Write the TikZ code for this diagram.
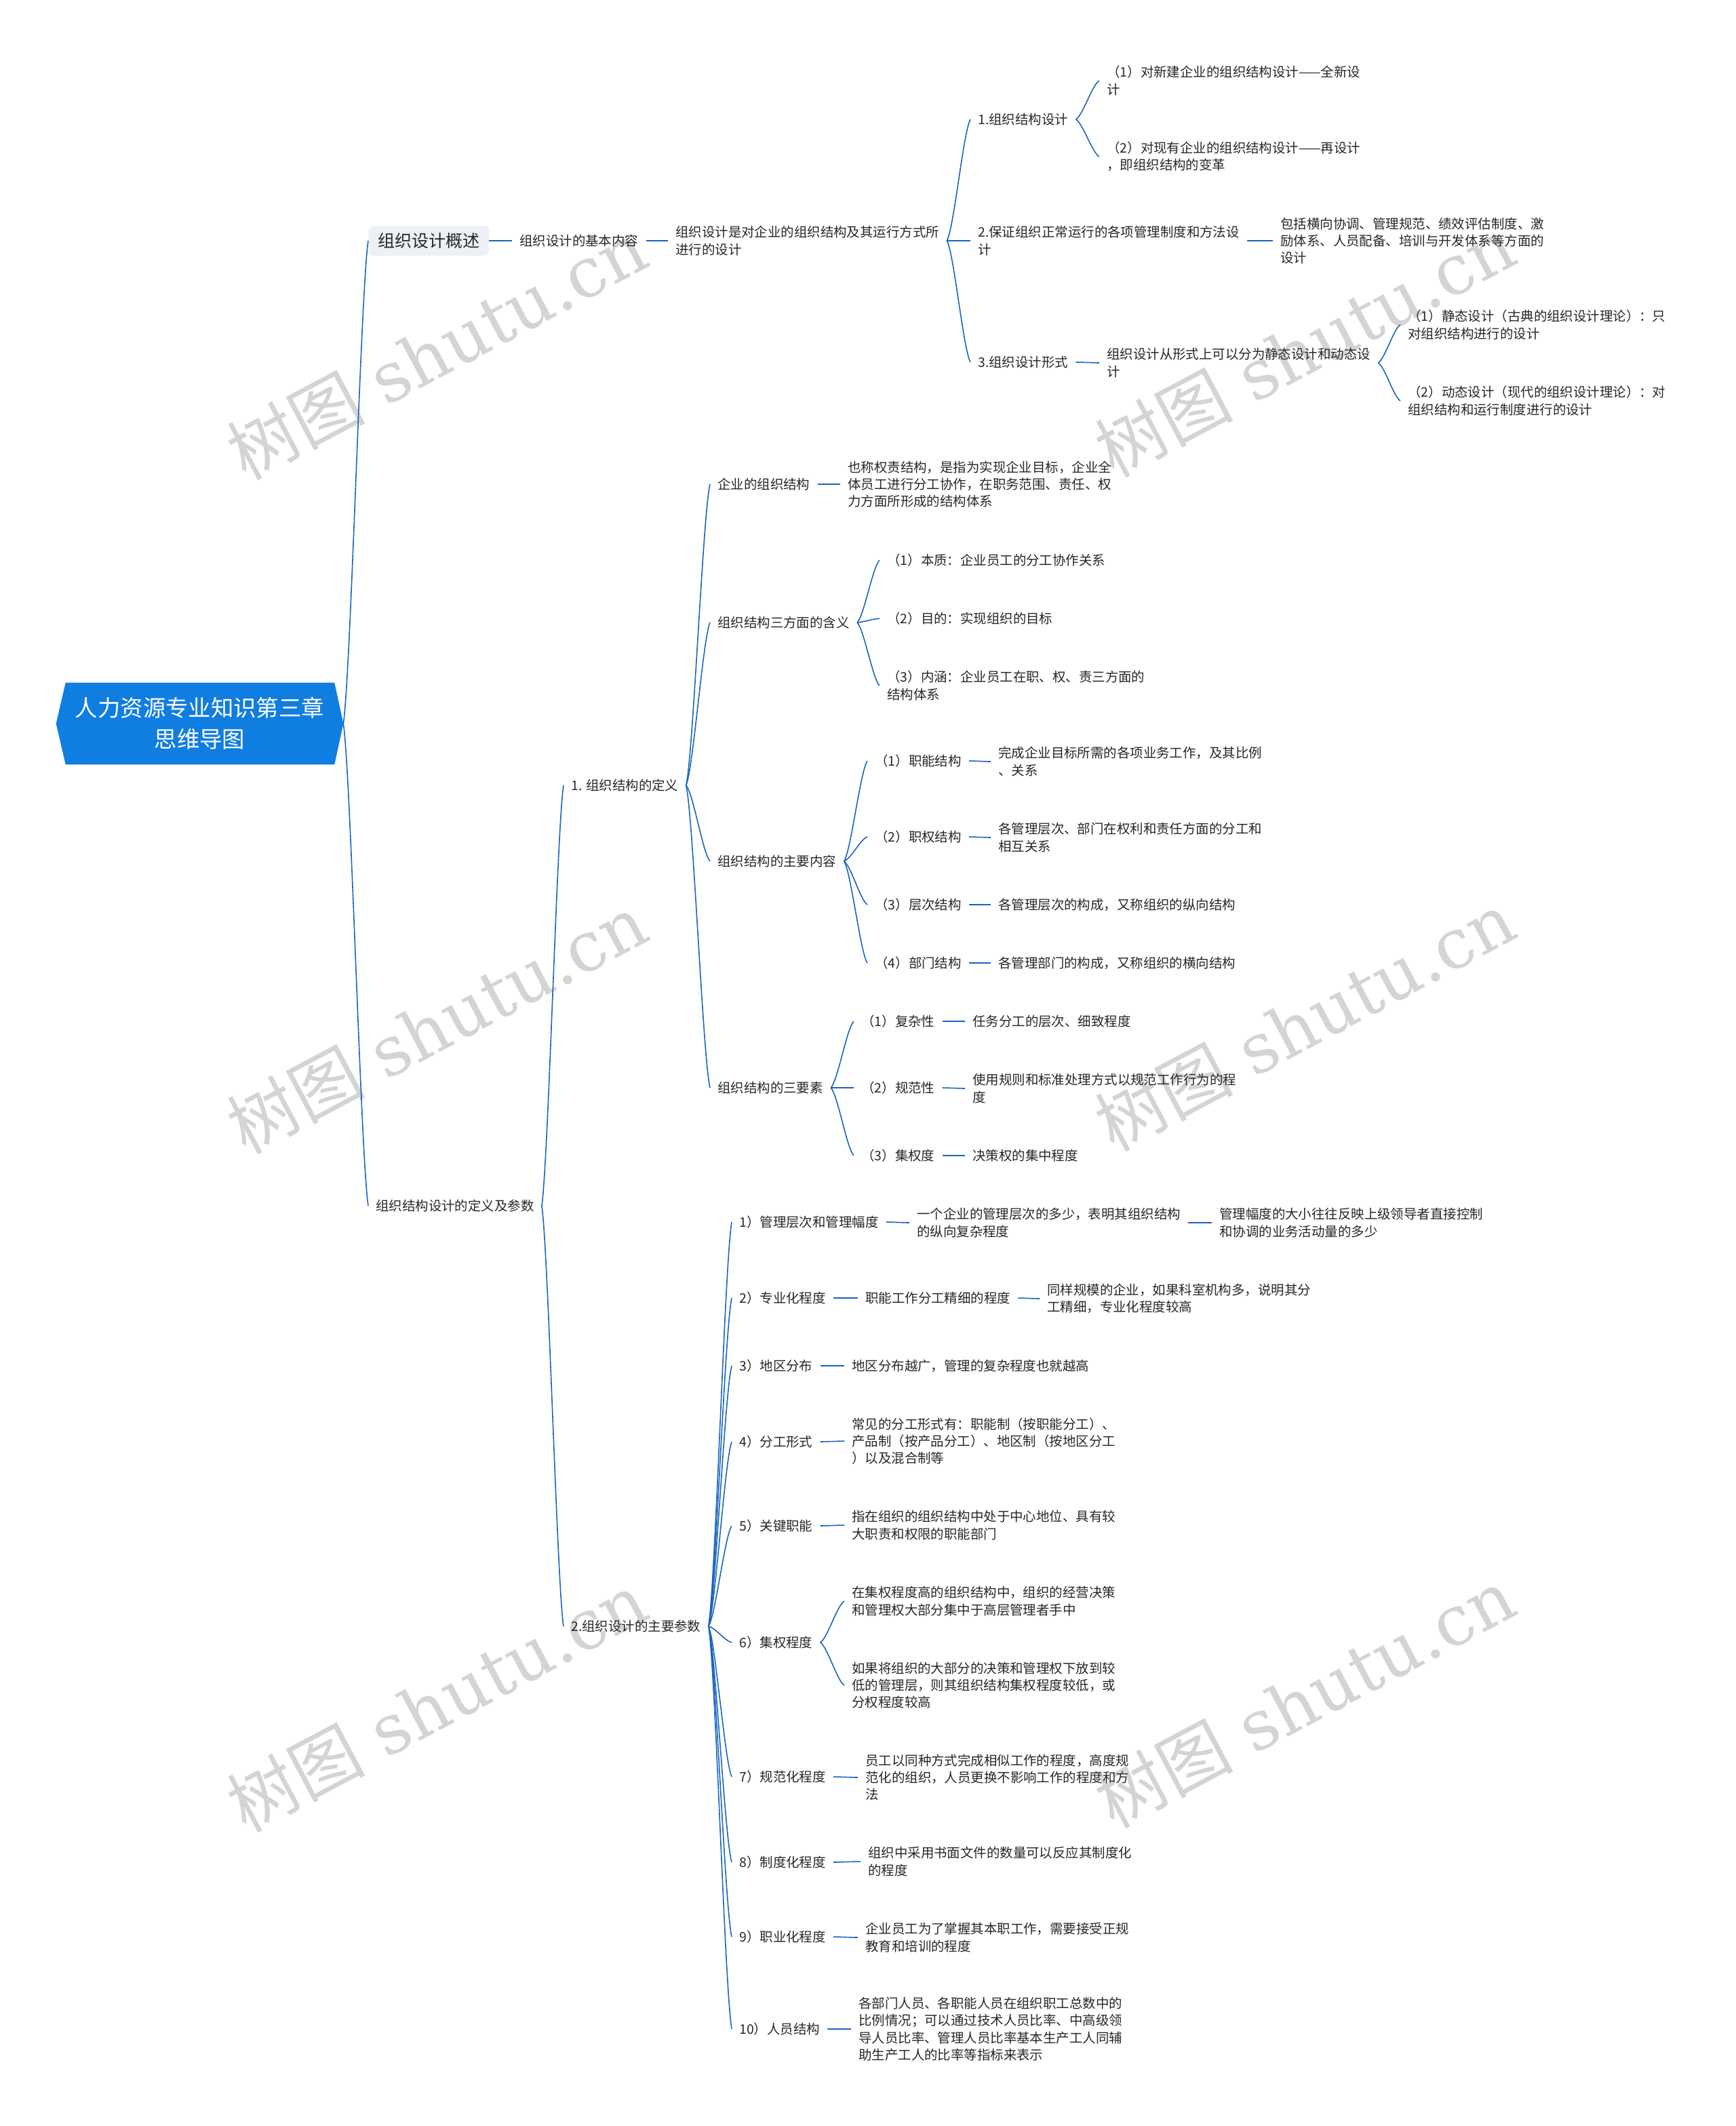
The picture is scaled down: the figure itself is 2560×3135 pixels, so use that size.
\documentclass[tikz,border=0pt]{standalone}
\usepackage{fontspec}
\usepackage{xcolor}
\usetikzlibrary{calc,backgrounds}

\newfontfamily\cjk{Noto Sans CJK SC}
\newfontfamily\wmserif{DejaVu Serif}

\definecolor{rootblue}{RGB}{16,125,225}
\definecolor{linkblue}{RGB}{24,100,190}
\definecolor{boxgray}{RGB}{237,241,245}
\definecolor{wmgray}{RGB}{212,212,212}

% curved connector from the east side of one topic to the west side of another
\newcommand\branch[2]{%
  \draw[link] let \p1=(#1.east), \p2=(#2.west) in
    (\p1) .. controls ($(\p1)+({0.3*(\x2-\x1)},{0.1*(\y2-\y1)})$)
          and ($(\p2)-({0.3*(\x2-\x1)},{0.1*(\y2-\y1)})$) .. (\p2);}

\begin{document}
\begin{tikzpicture}[
    x=0.02cm, y=-0.02cm,
    link/.style={draw=linkblue, line width=0.9pt},
    topic/.style={
        anchor=west,
        inner xsep=0.22cm,
        inner ysep=0pt,
        align=left,
        text=black!85,
        font=\cjk\fontsize{11.06}{14.4}\selectfont
    },
    overview/.style={
        topic,
        fill=boxgray,
        rounded corners=4pt,
        inner xsep=0.28cm,
        minimum height=0.88cm,
        font=\cjk\fontsize{14.2}{17}\selectfont
    },
    roottext/.style={
        align=center,
        text=white,
        minimum width=8.46cm,
        minimum height=2.4cm,
        font=\cjk\fontsize{19}{26.2}\selectfont
    },
    wmark/.style={
        rotate=28,
        text=wmgray,
        font=\fontsize{58}{60}\selectfont
    }
]
\useasboundingbox (0,0) rectangle (2560,3135);

% =========================================================
% Watermarks
% =========================================================
\node[wmark] (wm1) at (644,516)  {{\cjk 树图} {\wmserif shutu.cn}};
\node[wmark] (wm2) at (1924,512) {{\cjk 树图} {\wmserif shutu.cn}};
\node[wmark] (wm3) at (644,1510) {{\cjk 树图} {\wmserif shutu.cn}};
\node[wmark] (wm4) at (1924,1506) {{\cjk 树图} {\wmserif shutu.cn}};
\node[wmark] (wm5) at (644,2510) {{\cjk 树图} {\wmserif shutu.cn}};
\node[wmark] (wm6) at (1924,2504) {{\cjk 树图} {\wmserif shutu.cn}};

% =========================================================
% Root and main topics
% =========================================================
\node[roottext] (root) at (294.5,1067) {人力资源专业知识第三章\\思维导图};
\begin{scope}[on background layer]
\fill[rootblue] (root.west) -- ($(root.north west)+(14,0)$) -- ($(root.north east)+(-13,0)$)
    -- (root.east) -- ($(root.south east)+(-13,0)$) -- ($(root.south west)+(14,0)$) -- cycle;
\end{scope}

\node[overview] (ov) at (543,355) {组织设计概述};
\node[topic] (def) at (543,1778) {组织结构设计的定义及参数};

% =========================================================
% Overview branch
% =========================================================
\node[topic] (basic) at (755,355) {组织设计的基本内容};
\node[topic] (design) at (985,355) {组织设计是对企业的组织结构及其运行方式所\\进行的设计};

\node[topic] (s1) at (1431,176) {1.组织结构设计};
\node[topic] (s2) at (1431,355) {2.保证组织正常运行的各项管理制度和方法设\\计};
\node[topic] (s3) at (1431,534) {3.组织设计形式};

\node[topic] (s1a) at (1621,119) {（1）对新建企业的组织结构设计——全新设\\计};
\node[topic] (s1b) at (1621,231) {（2）对现有企业的组织结构设计——再设计\\，即组织结构的变革};
\node[topic] (s2a) at (1877,355) {包括横向协调、管理规范、绩效评估制度、激\\励体系、人员配备、培训与开发体系等方面的\\设计};
\node[topic] (s3a) at (1621,535) {组织设计从形式上可以分为静态设计和动态设\\计};
\node[topic] (s3b1) at (2065,479) {（1）静态设计（古典的组织设计理论）：只\\对组织结构进行的设计};
\node[topic] (s3b2) at (2065,591) {（2）动态设计（现代的组织设计理论）：对\\组织结构和运行制度进行的设计};

% =========================================================
% Definition of organisation structure
% =========================================================
\node[topic] (d1) at (831,1158) {1. 组织结构的定义};
\node[topic] (d2) at (831,2398) {2.组织设计的主要参数};

\node[topic] (e1) at (1047,714) {企业的组织结构};
\node[topic] (e1a) at (1239,714) {也称权责结构，是指为实现企业目标，企业全\\体员工进行分工协作，在职务范围、责任、权\\力方面所形成的结构体系};

\node[topic] (e2) at (1047,918) {组织结构三方面的含义};
\node[topic] (e2a) at (1297,826) {（1）本质：企业员工的分工协作关系};
\node[topic] (e2b) at (1297,912) {（2）目的：实现组织的目标};
\node[topic] (e2c) at (1297,1011) {（3）内涵：企业员工在职、权、责三方面的\\结构体系};

\node[topic] (e3) at (1047,1270) {组织结构的主要内容};
\node[topic] (e3a) at (1279,1122) {（1）职能结构};
\node[topic] (e3b) at (1279,1234) {（2）职权结构};
\node[topic] (e3c) at (1279,1334) {（3）层次结构};
\node[topic] (e3d) at (1279,1420) {（4）部门结构};
\node[topic] (e3a1) at (1461,1123) {完成企业目标所需的各项业务工作，及其比例\\、关系};
\node[topic] (e3b1) at (1461,1235) {各管理层次、部门在权利和责任方面的分工和\\相互关系};
\node[topic] (e3c1) at (1461,1334) {各管理层次的构成，又称组织的纵向结构};
\node[topic] (e3d1) at (1461,1420) {各管理部门的构成，又称组织的横向结构};

\node[topic] (e4) at (1047,1604) {组织结构的三要素};
\node[topic] (e4a) at (1259,1506) {（1）复杂性};
\node[topic] (e4b) at (1259,1604) {（2）规范性};
\node[topic] (e4c) at (1259,1704) {（3）集权度};
\node[topic] (e4a1) at (1423,1506) {任务分工的层次、细致程度};
\node[topic] (e4b1) at (1423,1605) {使用规则和标准处理方式以规范工作行为的程\\度};
\node[topic] (e4c1) at (1423,1704) {决策权的集中程度};

% =========================================================
% Main design parameters
% =========================================================
\node[topic] (p1) at (1079,1802) {1）管理层次和管理幅度};
\node[topic] (p1a) at (1341,1803) {一个企业的管理层次的多少，表明其组织结构\\的纵向复杂程度};
\node[topic] (p1b) at (1787,1803) {管理幅度的大小往往反映上级领导者直接控制\\和协调的业务活动量的多少};

\node[topic] (p2) at (1079,1914) {2）专业化程度};
\node[topic] (p2a) at (1265,1914) {职能工作分工精细的程度};
\node[topic] (p2b) at (1533,1915) {同样规模的企业，如果科室机构多，说明其分\\工精细，专业化程度较高};

\node[topic] (p3) at (1079,2014) {3）地区分布};
\node[topic] (p3a) at (1245,2014) {地区分布越广，管理的复杂程度也就越高};

\node[topic] (p4) at (1079,2126) {4）分工形式};
\node[topic] (p4a) at (1245,2125) {常见的分工形式有：职能制（按职能分工）、\\产品制（按产品分工）、地区制（按地区分工\\）以及混合制等};

\node[topic] (p5) at (1079,2250) {5）关键职能};
\node[topic] (p5a) at (1245,2249) {指在组织的组织结构中处于中心地位、具有较\\大职责和权限的职能部门};

\node[topic] (p6) at (1079,2422) {6）集权程度};
\node[topic] (p6a) at (1245,2361) {在集权程度高的组织结构中，组织的经营决策\\和管理权大部分集中于高层管理者手中};
\node[topic] (p6b) at (1245,2485) {如果将组织的大部分的决策和管理权下放到较\\低的管理层，则其组织结构集权程度较低，或\\分权程度较高};

\node[topic] (p7) at (1079,2620) {7）规范化程度};
\node[topic] (p7a) at (1265,2621) {员工以同种方式完成相似工作的程度，高度规\\范化的组织，人员更换不影响工作的程度和方\\法};

\node[topic] (p8) at (1079,2746) {8）制度化程度};
\node[topic] (p8a) at (1269,2745) {组织中采用书面文件的数量可以反应其制度化\\的程度};

\node[topic] (p9) at (1079,2856) {9）职业化程度};
\node[topic] (p9a) at (1265,2857) {企业员工为了掌握其本职工作，需要接受正规\\教育和培训的程度};

\node[topic] (p10) at (1079,2992) {10）人员结构};
\node[topic] (p10a) at (1255,2992) {各部门人员、各职能人员在组织职工总数中的\\比例情况；可以通过技术人员比率、中高级领\\导人员比率、管理人员比率基本生产工人同辅\\助生产工人的比率等指标来表示};

% =========================================================
% Connectors
% =========================================================
\branch{root}{ov}
\branch{root}{def}

\branch{ov}{basic}
\branch{basic}{design}
\branch{design}{s1}
\branch{design}{s2}
\branch{design}{s3}
\branch{s1}{s1a}
\branch{s1}{s1b}
\branch{s2}{s2a}
\branch{s3}{s3a}
\branch{s3a}{s3b1}
\branch{s3a}{s3b2}

\branch{def}{d1}
\branch{def}{d2}

\branch{d1}{e1}
\branch{d1}{e2}
\branch{d1}{e3}
\branch{d1}{e4}
\branch{e1}{e1a}
\branch{e2}{e2a}
\branch{e2}{e2b}
\branch{e2}{e2c}
\branch{e3}{e3a}
\branch{e3}{e3b}
\branch{e3}{e3c}
\branch{e3}{e3d}
\branch{e3a}{e3a1}
\branch{e3b}{e3b1}
\branch{e3c}{e3c1}
\branch{e3d}{e3d1}
\branch{e4}{e4a}
\branch{e4}{e4b}
\branch{e4}{e4c}
\branch{e4a}{e4a1}
\branch{e4b}{e4b1}
\branch{e4c}{e4c1}

\branch{d2}{p1}
\branch{d2}{p2}
\branch{d2}{p3}
\branch{d2}{p4}
\branch{d2}{p5}
\branch{d2}{p6}
\branch{d2}{p7}
\branch{d2}{p8}
\branch{d2}{p9}
\branch{d2}{p10}
\branch{p1}{p1a}
\branch{p1a}{p1b}
\branch{p2}{p2a}
\branch{p2a}{p2b}
\branch{p3}{p3a}
\branch{p4}{p4a}
\branch{p5}{p5a}
\branch{p6}{p6a}
\branch{p6}{p6b}
\branch{p7}{p7a}
\branch{p8}{p8a}
\branch{p9}{p9a}
\branch{p10}{p10a}

\end{tikzpicture}
\end{document}
